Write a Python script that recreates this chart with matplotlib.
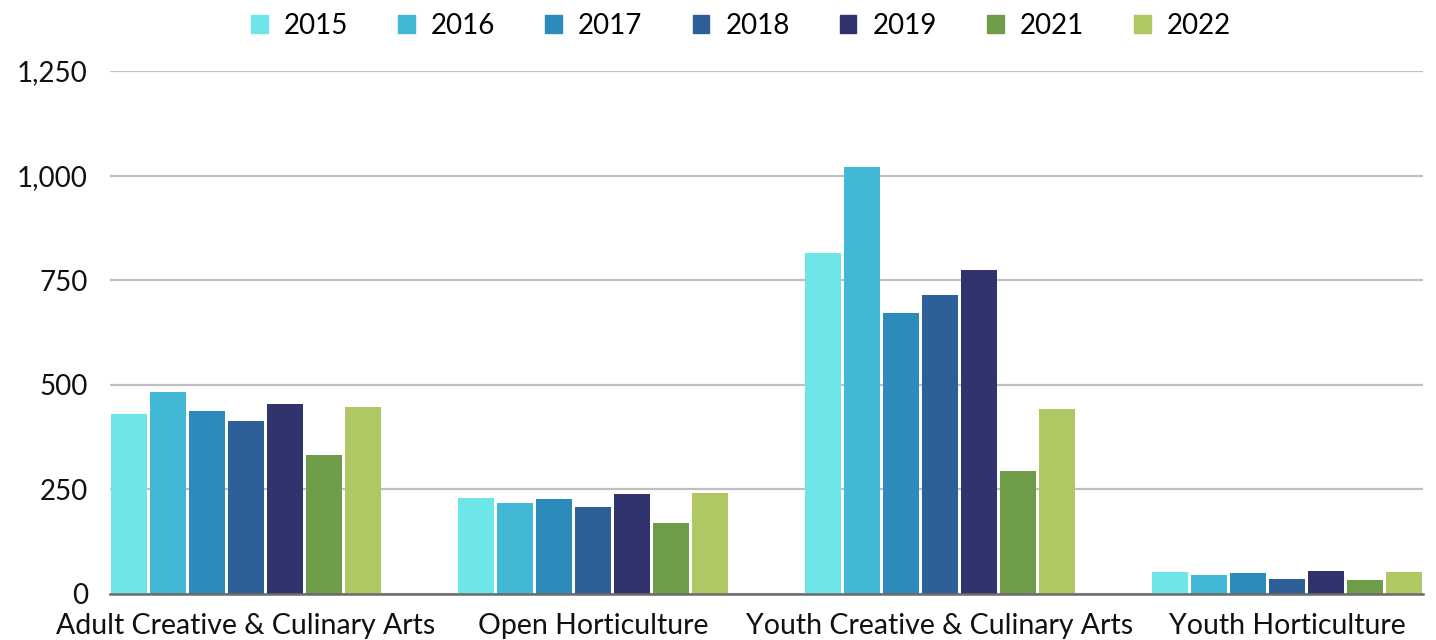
import numpy as np
import matplotlib.pyplot as plt
from matplotlib.patches import Patch

plt.rcParams['font.family'] = ['Lato', 'DejaVu Sans']

categories = ['Adult Creative & Culinary Arts', 'Open Horticulture',
              'Youth Creative & Culinary Arts', 'Youth Horticulture']
years = ['2015', '2016', '2017', '2018', '2019', '2021', '2022']
values = {
    '2015': [430, 230, 814, 52],
    '2016': [482, 218, 1020, 45],
    '2017': [437, 228, 671, 49],
    '2018': [414, 207, 714, 35],
    '2019': [453, 239, 774, 56],
    '2021': [332, 170, 295, 33],
    '2022': [447, 241, 441, 52],
}
colors = ['#6EE5E8', '#42B7D6', '#2C8BBA', '#2E5F98', '#31346C', '#6E9C48', '#B0C864']
y_ticks = [0, 250, 500, 750, 1000, 1250]

fig = plt.figure(figsize=(14.36, 6.4), dpi=100)
ax = fig.add_axes([110 / 1436, 46 / 640, 1313 / 1436, 523 / 640])

x = np.arange(len(categories))
span = 272 / 347
slot = span / len(years)
for j, yr in enumerate(years):
    offs = -span / 2 + slot * (j + 0.5)
    ax.bar(x + offs, values[yr], width=slot * 0.93, color=colors[j], zorder=3)

ax.set_xlim(-span / 2, len(categories) - 1 + span / 2)
ax.set_ylim(0, 1250)
ax.set_yticks(y_ticks)
ax.set_yticklabels([f'{v:,}' for v in y_ticks])
ax.set_xticks(x)
ax.set_xticklabels(categories)
ax.tick_params(axis='y', length=0, pad=16, labelsize=20, labelcolor='#111111')
ax.tick_params(axis='x', length=0, pad=14, labelsize=20.5, labelcolor='#111111')
ax.grid(axis='y', color='#C0C0C0', linewidth=1.6, zorder=0)
for s in ['top', 'right', 'left']:
    ax.spines[s].set_visible(False)
ax.spines['bottom'].set_color('#6B6B6B')
ax.spines['bottom'].set_linewidth(1.8)
ax.spines['bottom'].set_zorder(4)

handles = [Patch(color=c, label=y) for c, y in zip(colors, years)]
fig.legend(handles=handles, loc='center', bbox_to_anchor=(741 / 1436, 1 - 26 / 640),
           ncol=len(years), frameon=False, fontsize=20, handlelength=0.6,
           handleheight=0.6, handletextpad=0.58, columnspacing=1.8)

fig.savefig('out.png', dpi=100)
